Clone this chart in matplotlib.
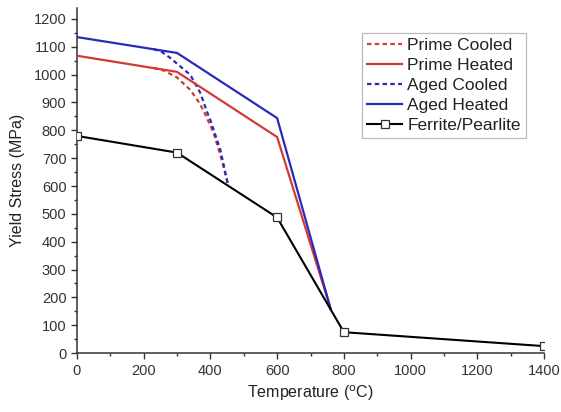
import numpy as np
import matplotlib
matplotlib.use("Agg")
import matplotlib.pyplot as plt
from matplotlib.ticker import MultipleLocator

plt.rcParams['font.family'] = ['Liberation Sans', 'DejaVu Sans']

# yield stress (MPa) vs temperature (C)
prime_heated_t = [0, 300, 600, 760]
prime_heated_s = [1068, 1010, 776, 160]
aged_heated_t = [0, 300, 600, 760]
aged_heated_s = [1135, 1078, 844, 160]

prime_cooled_t = [230, 260, 300, 340, 365, 380, 410, 435, 453]
prime_cooled_s = [1024, 1015, 990, 945, 902, 870, 790, 690, 604]
aged_cooled_t = [230, 250, 280, 340, 370, 390, 400, 430, 453]
aged_cooled_s = [1091, 1085, 1060, 999, 934, 866, 837, 729, 604]

fp_t = [0, 300, 600, 800, 1400]
fp_s = [780, 720, 487, 75, 25]

red = '#d43a32'
blue = '#2a2ab8'

fig = plt.figure(figsize=(5.61, 4.12), dpi=100)
ax = fig.add_axes([0.137, 0.143, 0.833, 0.838])

ax.plot(prime_cooled_t, prime_cooled_s, color=red, lw=1.6, ls=(0, (2, 1.5)),
        label='Prime Cooled', zorder=2)
ax.plot(prime_heated_t, prime_heated_s, color=red, lw=1.6,
        label='Prime Heated', zorder=3)
ax.plot(aged_cooled_t, aged_cooled_s, color=blue, lw=1.6, ls=(0, (2, 1.5)),
        label='Aged Cooled', zorder=2)
ax.plot(aged_heated_t, aged_heated_s, color=blue, lw=1.6,
        label='Aged Heated', zorder=3)
ax.plot(fp_t, fp_s, color='black', lw=1.5, marker='s', markersize=5.5,
        markerfacecolor='white', markeredgecolor='#333333', markeredgewidth=0.9,
        label='Ferrite/Pearlite', zorder=4)

ax.set_xlim(0, 1400)
ax.set_ylim(0, 1240)
ax.xaxis.set_major_locator(MultipleLocator(200))
ax.xaxis.set_minor_locator(MultipleLocator(100))
ax.yaxis.set_major_locator(MultipleLocator(100))
ax.yaxis.set_minor_locator(MultipleLocator(50))
ax.set_yticks(np.arange(0, 1201, 100))

for side in ['top', 'right']:
    ax.spines[side].set_visible(False)
for side in ['left', 'bottom']:
    ax.spines[side].set_color('#333333')
    ax.spines[side].set_linewidth(1.1)

ax.tick_params(which='major', direction='out', length=4, width=1,
               color='#333333', labelsize=10.5, labelcolor='#333333')
ax.tick_params(which='minor', direction='out', length=2.5, width=1,
               color='#333333')

ax.set_xlabel('Temperature ($^{\\mathrm{o}}$C)', fontsize=11.5,
              color='#222222', labelpad=4)
ax.set_ylabel('Yield Stress (MPa)', fontsize=11.5, color='#222222',
              labelpad=6)

leg = ax.legend(loc='upper right', bbox_to_anchor=(0.961, 0.928),
                fontsize=12.5, frameon=True, fancybox=False,
                handlelength=2.0, handletextpad=0.3, borderpad=0.3,
                labelspacing=0.28, borderaxespad=0)
leg.get_frame().set_edgecolor('#aaaaaa')
leg.get_frame().set_linewidth(0.9)
for t in leg.get_texts():
    t.set_color('#222222')

fig.savefig('out.png', dpi=100)
